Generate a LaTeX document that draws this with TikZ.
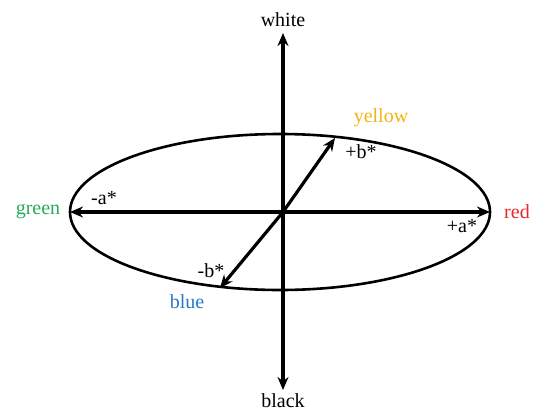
\documentclass[tikz,border=0pt]{standalone}
\usepackage{fontspec}
\setmainfont{Liberation Serif}
\usetikzlibrary{arrows.meta}
\definecolor{cgreen}{RGB}{40,170,90}
\definecolor{cred}{RGB}{230,40,40}
\definecolor{cyellow}{RGB}{240,180,20}
\definecolor{cblue}{RGB}{40,120,200}
\tikzset{
  axis/.style={line width=3.2pt,-{Stealth[length=13pt,width=11pt]}},
  lbl/.style={font=\fontsize{20}{22}\selectfont, inner sep=0pt},
}
\begin{document}
\begin{tikzpicture}[x=1pt,y=-1pt]
\useasboundingbox (0,0) rectangle (537,412);
\draw[line width=2.6pt] (280,212) ellipse (210 and 78);
\coordinate (O) at (283,212);
\coordinate (T) at (283,33);
\coordinate (B) at (283,390);
\coordinate (L) at (70,212);
\coordinate (R) at (490,212);
\coordinate (UR) at (335,138);
\coordinate (LL) at (220,288);
\draw[axis] (O) -- (T);
\draw[axis] (O) -- (B);
\draw[axis] (O) -- (L);
\draw[axis] (O) -- (R);
\draw[axis] (O) -- (UR);
\draw[axis] (O) -- (LL);
\node[lbl] (white) at (283,20) {white};
\node[lbl] (black) at (283,401) {black};
\node[lbl,text=cgreen] (green) at (38,212) {green};
\node[lbl,text=cred] (red) at (517,212) {red};
\node[lbl,text=cyellow] (yellow) at (381,118) {yellow};
\node[lbl,text=cblue] (blue) at (187,302) {blue};
\node[lbl] (pb) at (361,152) {+b*};
\node[lbl] (mb) at (211,271) {-b*};
\node[lbl] (ma) at (104,198) {-a*};
\node[lbl] (pa) at (462,226) {+a*};
\end{tikzpicture}
\end{document}
